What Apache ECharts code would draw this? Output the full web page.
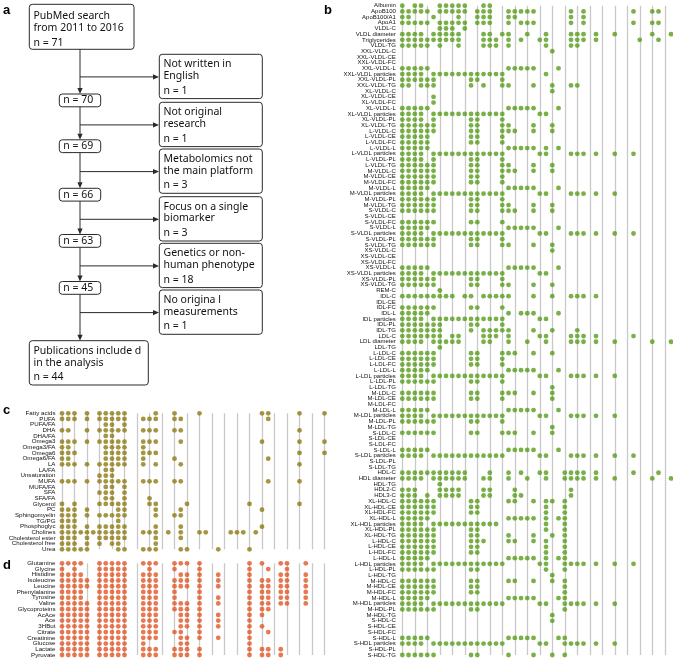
<!DOCTYPE html>
<html><head><meta charset="utf-8">
<script src="https://cdn.jsdelivr.net/npm/echarts@6/dist/echarts.min.js"></script>
<style>html,body{margin:0;padding:0;background:#fff}#c{width:673px;height:658px}</style>
</head><body><div id="c"></div>
<script>
// ---------- Panel b: lipoprotein measures ----------
const bRows = ["Albumin","ApoB100","ApoB100/A1","ApoA1","VLDL-C","VLDL diameter","Triglycerides","VLDL-TG",
"XXL-VLDL-C","XXL-VLDL-CE","XXL-VLDL-FC","XXL-VLDL-L","XXL-VLDL particles","XXL-VLDL-PL","XXL-VLDL-TG",
"XL-VLDL-C","XL-VLDL-CE","XL-VLDL-FC","XL-VLDL-L","XL-VLDL particles","XL-VLDL-PL","XL-VLDL-TG",
"L-VLDL-C","L-VLDL-CE","L-VLDL-FC","L-VLDL-L","L-VLDL particles","L-VLDL-PL","L-VLDL-TG",
"M-VLDL-C","M-VLDL-CE","M-VLDL-FC","M-VLDL-L","M-VLDL particles","M-VLDL-PL","M-VLDL-TG",
"S-VLDL-C","S-VLDL-CE","S-VLDL-FC","S-VLDL-L","S-VLDL particles","S-VLDL-PL","S-VLDL-TG",
"XS-VLDL-C","XS-VLDL-CE","XS-VLDL-FC","XS-VLDL-L","XS-VLDL particles","XS-VLDL-PL","XS-VLDL-TG",
"REM-C","IDL-C","IDL-CE","IDL-FC","IDL-L","IDL particles","IDL-PL","IDL-TG",
"LDL-C","LDL diameter","LDL-TG",
"L-LDL-C","L-LDL-CE","L-LDL-FC","L-LDL-L","L-LDL particles","L-LDL-PL","L-LDL-TG",
"M-LDL-C","M-LDL-CE","M-LDL-FC","M-LDL-L","M-LDL particles","M-LDL-PL","M-LDL-TG",
"S-LDL-C","S-LDL-CE","S-LDL-FC","S-LDL-L","S-LDL particles","S-LDL-PL","S-LDL-TG",
"HDL-C","HDL diameter","HDL-TG","HDL2-C","HDL3-C",
"XL-HDL-C","XL-HDL-CE","XL-HDL-FC","XL-HDL-L","XL-HDL particles","XL-HDL-PL","XL-HDL-TG",
"L-HDL-C","L-HDL-CE","L-HDL-FC","L-HDL-L","L-HDL particles","L-HDL-PL","L-HDL-TG",
"M-HDL-C","M-HDL-CE","M-HDL-FC","M-HDL-L","M-HDL particles","M-HDL-PL","M-HDL-TG",
"S-HDL-C","S-HDL-CE","S-HDL-FC","S-HDL-L","S-HDL particles","S-HDL-PL","S-HDL-TG"];

// publication (column) indices that report each measure, one string per row
const bCols = [
"0 2 3 6 7 8 9 10 13 14",
"0 1 2 3 4 6 7 8 9 10 12 13 14 17 18 19 20 21 27 29 37 40 41",
"0 1 5 9 12 13 14 17 18 27 29",
"0 1 2 3 4 6 7 8 9 10 12 13 14 17 19 20 21 27 29 37 40 41",
"6 7 8 10",
"0 1 2 3 5 6 7 8 9 13 14 16 17 20 23 27 28 29 31 34 40 43",
"0 1 2 3 4 5 6 7 8 9 13 14 15 17 19 22 23 27 28 29 31 38 41",
"0 1 2 3 4 6 9 13 14 15 17 23 27 28",
"24", "", "",
"0 1 2 3 4 17 18 19 20 21 25",
"0 1 2 3 5 6 7 8 9 10 11 12 13 14 15 16 23",
"0 1 2 3 4 5 11 12 16",
"0 1 3 4 5 11 13 16 17 21 24 27 28",
"24", "5", "5",
"0 1 2 3 4 17 18 19 20 21 25",
"0 1 2 3 5 6 7 8 9 10 11 12 13 14 15 16 22 23",
"0 1 2 3 5 11 12 16",
"0 1 2 3 4 5 11 12 16 17 21 24",
"0 1 2 3 4 5 11 12 16 17 18 21 24",
"0 1 2 3 4 11 12 16",
"0 1 2 3 4 11 12 16",
"0 1 2 3 4 17 18 19 20 21 23 25",
"0 1 2 3 5 6 7 8 9 10 11 12 13 14 15 16 22 23 27 28 29 31 34 37",
"0 1 2 3 5 11 12 16",
"0 1 2 3 4 5 11 12 16 17 21 24",
"0 1 2 3 4 5 11 12 16 17 18 21 24",
"0 1 2 3 4 5 11 12 16",
"0 1 2 3 4 5 11 12 16",
"0 1 2 3 4 17 18 19 20 21 25",
"0 1 2 3 5 6 7 8 9 10 11 12 13 14 15 16 22 23 27 28 29 31 34",
"0 1 2 3 4 5 11 12 16",
"0 1 2 3 4 5 11 12 16 17 21 24",
"0 1 2 3 4 5 11 12 16 17 18 21 24",
"",
"0 1 2 3 4 5 11 12 16",
"0 1 2 3 4 17 18 19 20 21 25",
"0 1 2 3 5 6 7 8 9 10 11 12 13 14 15 16 22 23 27 28 29 31 34 37",
"0 1 2 3 4 5 11 12 16",
"0 1 2 3 4 5 11 12 16 17 21 24",
"24", "", "",
"0 1 2 3 4 17 18 19 20 21 25",
"0 1 2 3 5 6 7 8 9 10 11 12 13 14 15 16 22 23",
"0 1 2 3 4 5 11 12 16",
"0 1 2 3 4 5 11 12 16 17 21 24",
"6",
"0 1 2 3 4 5 6 7 8 10 11 13 14 15 16 17 21 24 27 28 29 31",
"",
"0 1 2 3 4 5 11 12 16",
"0 1 2 3 4 17 19 20 21 25",
"0 1 2 3 5 6 7 8 9 10 11 12 13 14 15 16 22 23",
"0 1 2 3 4 5 6 11 12 16",
"0 1 2 3 4 5 6 11 13 14 15 16 17 21 24 28",
"0 1 2 3 4 5 6 8 9 13 14 15 17 22 23 27 28 29 31 37",
"0 1 2 3 5 6 7 8 9 13 14 17 20 23 27 28 29 31 34 40 43",
"6",
"0 1 2 3 4 5 11 12 16 17 18 21 24",
"0 1 2 3 4 5 11 12 16",
"0 1 2 3 4 5 11 12 16",
"0 1 2 3 4 17 18 19 20 21 25",
"0 1 2 3 5 6 7 8 9 10 11 12 13 14 15 16 22 23 27 28 29 31 34",
"0 1 2 3 4 5 11 12 16",
"24",
"0 1 2 3 4 5 11 12 16 17 18 21 24",
"0 1 2 3 4 5 11 12 16 24",
"",
"0 1 2 3 4 17 18 19 20 21 25",
"0 1 2 3 5 6 7 8 9 10 11 12 13 14 15 16 22 23 27 28 29 31 34",
"0 1 2 3 4 5 11 12 16",
"24",
"0 1 2 3 4 5 11 12 16 17 18 21 24",
"", "",
"0 1 2 3 4 17 18 19 20 21 25",
"0 1 2 3 5 6 7 8 9 10 11 12 13 14 15 16 22 23 27 28 29 31 34 37",
"", "",
"0 1 2 3 4 5 6 7 8 9 10 14 17 19 22 23 26 27 28 29 31 37 41",
"0 1 2 3 5 6 7 8 9 10 13 14 17 20 23 26 27 28 29 31 34 40 43",
"6",
"0 1 2 6 7 8 9 13 14 18 27",
"0 1 2 4 6 7 8 9 13 14 18 19 27",
"0 1 2 3 4 5 11 12 17 18 21 23 24 26",
"0 1 2 3 4 5 11 12 23 26",
"0 1 2 3 4 5 11 12 23 26",
"0 1 2 3 4 17 18 19 20 21 23 25 26",
"0 1 2 3 5 6 7 8 9 10 11 12 13 14 15 23 26",
"0 1 2 3 4 5 11 12 23 26",
"0 1 2 3 4 5 11 12 17 21 24 26",
"0 1 2 3 4 5 11 12 13 17 18 21 23 26",
"0 1 2 3 4 5 11 12 23 26",
"0 1 2 3 4 5 11 12 23 26",
"0 1 2 3 4 17 18 19 20 21 23 25 26",
"0 1 2 3 5 6 7 8 9 10 11 12 13 14 15 16 22 23 26 27 28 29 31 34 37",
"0 1 2 3 4 5 11 12 23 26",
"24",
"0 1 2 3 4 5 11 12 17 18 21 24 26",
"0 1 2 3 4 5 11 12 26",
"0 1 2 3 4 5 11 12 26",
"0 1 2 3 4 17 18 19 20 21 25 26",
"0 1 2 3 5 6 7 8 9 10 11 12 13 14 15 16 22 23 26 27 28 29 31 34",
"0 1 2 3 4 5 11 12 26",
"24",
"24", "", "",
"0 1 2 3 4 17 18 19 20 21 25 26",
"0 1 2 3 5 6 7 8 9 10 11 12 13 14 15 16 22 23 26 27 28 29 31 34",
"",
"0 1 2 3 4 5 11 12 17 21 24 26"
];

// ---------- Panel c: fatty acids & lipids ----------
const cRows = ["Fatty acids","PUFA","PUFA/FA","DHA","DHA/FA","Omega3","Omega3/FA","Omega6","Omega6/FA","LA","LA/FA",
"Unsaturation","MUFA","MUFA/FA","SFA","SFA/FA","Glycerol","PC","Sphingomyelin","TG/PG","Phosphoglyc","Cholines",
"Cholesterol ester","Cholesterol free","Urea"];
const cCols = [
"0 1 2 4 6 7 8 9 10 15 18 22 32 33 38 42",
"0 1 2 4 6 7 8 9 10 13 14 15 18 19 33",
"7 8 10",
"0 1 4 6 7 8 9 10 13 14 15 18 19 38",
"7 8",
"0 1 2 4 6 7 8 9 10 13 14 15 19 32 38 42",
"0 1 7 8 9 10 13",
"0 1 2 7 8 9 10 13 14 15 38 42",
"0 1 7 8 9 10 13 18 33",
"0 1 2 4 6 7 8 9 10 13 15 19 38",
"7 8",
"6 7 8",
"0 1 2 4 6 7 8 9 10 13 14 15 18 19 33 38",
"7 8 10",
"6 7 8 10",
"7 8 10 14",
"0 2 6 7 8 9 10 14 15 20 30 38",
"0 1 2 4 9 10 15 19 32",
"0 1 2 4 6 7 8 9 10 15 18 19",
"0 1 2 9",
"0 1 2 4 6 7 8 9 10 15 19 32",
"0 1 2 3 4 5 6 7 8 9 10 13 14 15 17 19 22 23 27 28 29 31",
"0 1 2 4 6 7 8 9 10 15 19",
"0 1 2 4 6 8 9 15",
"0 1 2 3 4 9 10 13 14 15 19 20 25 30"
];

// ---------- Panel d: small molecules ----------
const dRows = ["Glutamine","Glycine","Histidine","Isoleucine","Leucine","Phenylalanine","Tyrosine","Valine",
"Glycoproteins","AcAce","Ace","3HBut","Citrate","Creatinine","Glucose","Lactate","Pyruvate"];
const dCols = [
"0 1 2 3 6 7 8 9 10 13 14 15 18 19 20 22 30 32 35 36 39",
"0 2 6 7 8 9 10 14 18 22 30 33 36",
"0 1 2 3 6 7 8 9 10 13 14 15 19 20 22 25 30 35 36 39",
"0 1 2 3 4 6 7 8 9 10 13 14 15 18 19 20 22 25 30 32 33 35 36 39",
"0 1 2 3 4 6 7 8 9 10 13 14 15 18 19 20 22 25 30 32 33 35 36 39",
"0 1 2 3 6 7 8 9 10 13 14 15 18 22 30 32 33 35 36 39",
"0 1 2 3 6 7 8 9 10 13 14 15 18 22 25 30 32 33 35 36 39",
"0 1 2 3 4 6 7 8 9 10 13 14 15 18 19 20 22 25 30 32 33 35 36 39",
"0 1 2 3 4 6 7 8 9 10 13 14 15 18 19 20 22 30 32 33",
"0 1 2 3 4 6 7 8 9 10 13 14 15 19 20 22 25 30 32",
"0 1 2 3 4 6 7 8 9 10 13 14 15 19 20 22 25 30",
"0 1 2 3 4 6 7 8 9 10 13 14 15 19 20 22 25 30 32",
"0 1 2 3 4 6 7 8 9 10 13 14 15 18 19 22 30 33",
"0 1 2 3 4 6 7 8 9 10 13 14 15 19 20 22 25 30",
"0 1 2 3 4 6 7 8 9 10 13 19 20 30",
"0 1 2 3 4 6 7 8 9 10 13 14 15 18 19 20 22 30 32 33 35",
"0 1 2 3 4 6 7 8 9 10 13 14 15 18 19 20 22 30 32 33 35"
];

const nPubs = 44;

// ---------- Panel a: flowchart ----------
const flowMain = [["PubMed search","from 2011 to 2016","n = 71"]];
const flowSteps = ["n = 70","n = 69","n = 66","n = 63","n = 45"];
const flowExcl = [
  ["Not written in","English","n = 1"],
  ["Not original","research","n = 1"],
  ["Metabolomics not","the main platform","n = 3"],
  ["Focus on a single","biomarker","n = 3"],
  ["Genetics or non-","human phenotype","n = 18"],
  ["No origina l","measurements","n = 1"]
];
const flowFinal = ["Publications include d","in the analysis","n = 44"];

function toData(rows, cols){
  const out = [];
  cols.forEach((s, r) => {
    s.trim().split(/\s+/).filter(Boolean).forEach(c => out.push([Number(c), rows[r]]));
  });
  return out;
}

const FONT_AX = '"Liberation Sans", Arial, sans-serif';
const FONT_FLOW = '"Noto Sans", sans-serif';
const flowFont = '10.5px ' + FONT_FLOW;
const ink = '#2a2a2a';

// ---- flowchart graphics ----
const g = [];
function box(x, y, w, h){ g.push({type:'rect', shape:{x, y, width:w, height:h, r:3}, style:{fill:'#fff', stroke:ink, lineWidth:1}}); }
function txt(t, x, y, font, extra){ g.push({type:'text', x, y, style:Object.assign({text:t, font:font||flowFont, fill:'#111', verticalAlign:'middle', align:'left'}, extra||{})}); }
function line(x1,y1,x2,y2){ g.push({type:'line', shape:{x1,y1,x2,y2}, style:{stroke:ink, lineWidth:1}}); }
function arrowDown(x, y){ g.push({type:'polygon', shape:{points:[[x,y],[x-2.6,y-6],[x+2.6,y-6]]}, style:{fill:ink}}); }
function arrowRight(x, y){ g.push({type:'polygon', shape:{points:[[x,y],[x-6,y-2.6],[x-6,y+2.6]]}, style:{fill:ink}}); }

const cx = 80;
box(29.3, 4.3, 104.7, 45);
[15.7, 27.7, 42.7].forEach((yy, i) => txt(flowMain[0][i], 33.5, yy));
const stepTop = [94, 139.8, 188.3, 234.5, 281.5];
const stepH = 12.8;
const exclTop = [54.3, 102.3, 149, 196.7, 243.3, 290];
const finalTop = 340.7;
let prevBottom = 49.3;
stepTop.forEach((t, i) => {
  line(cx, prevBottom, cx, t - 5);
  arrowDown(cx, t);
  box(59.3, t, 41.4, stepH);
  txt(flowSteps[i], 63.3, t + stepH/2);
  prevBottom = t + stepH;
});
line(cx, prevBottom, cx, finalTop - 5);
arrowDown(cx, finalTop);
exclTop.forEach((t, i) => {
  box(159.3, t, 103, 44.3);
  txt(flowExcl[i][0], 163.5, t + 10.2);
  txt(flowExcl[i][1], 163.5, t + 21.8);
  txt(flowExcl[i][2], 163.5, t + 36.5);
  const by = t + 22.6;
  line(cx, by, 153, by);
  arrowRight(159, by);
});
box(29.3, finalTop, 119, 44.3);
txt(flowFinal[0], 33.5, finalTop + 10.3);
txt(flowFinal[1], 33.5, finalTop + 22);
txt(flowFinal[2], 33.5, finalTop + 36);

const letterFont = 'bold 13px ' + FONT_AX;
txt('a', 3, 10, letterFont, {fill:'#000'});
txt('b', 324, 10, letterFont, {fill:'#000'});
txt('c', 3, 410, letterFont, {fill:'#000'});
txt('d', 3, 565, letterFont, {fill:'#000'});

function xAx(idx){
  return {gridIndex: idx, type:'value', min:0, max:nPubs-1, interval:2,
    axisLabel:{show:false}, axisLine:{show:false}, axisTick:{show:false},
    splitLine:{show:true, showMaxLine:false, lineStyle:{color:'#c9c9c9', width:1.3}}};
}
function yAx(idx, rows, fs){
  return {gridIndex: idx, type:'category', data: rows, inverse:true, boundaryGap:false,
    axisLine:{show:false}, axisTick:{show:false}, splitLine:{show:false},
    axisLabel:{interval:0, fontSize:fs, color:'#111', fontFamily:FONT_AX, margin:6.5}};
}

const option = {
  animation:false,
  backgroundColor:'#fff',
  grid:[
    {left:402.3, width:268.7, top:5.7, height:649.3, containLabel:false, outerBoundsMode:'none'},
    {left:62, width:268.75, top:413.3, height:136, containLabel:false, outerBoundsMode:'none'},
    {left:62, width:268.75, top:563.3, height:91.7, containLabel:false, outerBoundsMode:'none'}
  ],
  xAxis:[xAx(0), xAx(1), xAx(2)],
  yAxis:[yAx(0, bRows, 6), yAx(1, cRows, 6.2), yAx(2, dRows, 6.2)],
  series:[
    {type:'scatter', xAxisIndex:0, yAxisIndex:0, data:toData(bRows,bCols), symbolSize:4.8, itemStyle:{color:'#579c1a'}, silent:true},
    {type:'scatter', xAxisIndex:1, yAxisIndex:1, data:toData(cRows,cCols), symbolSize:4.8, itemStyle:{color:'#8c7a12'}, silent:true},
    {type:'scatter', xAxisIndex:2, yAxisIndex:2, data:toData(dRows,dCols), symbolSize:4.8, itemStyle:{color:'#e05826'}, silent:true}
  ],
  graphic: g
};
const chart = echarts.init(document.getElementById('c'), null, {renderer:'canvas'});
chart.setOption(option);
</script>
</body></html>
